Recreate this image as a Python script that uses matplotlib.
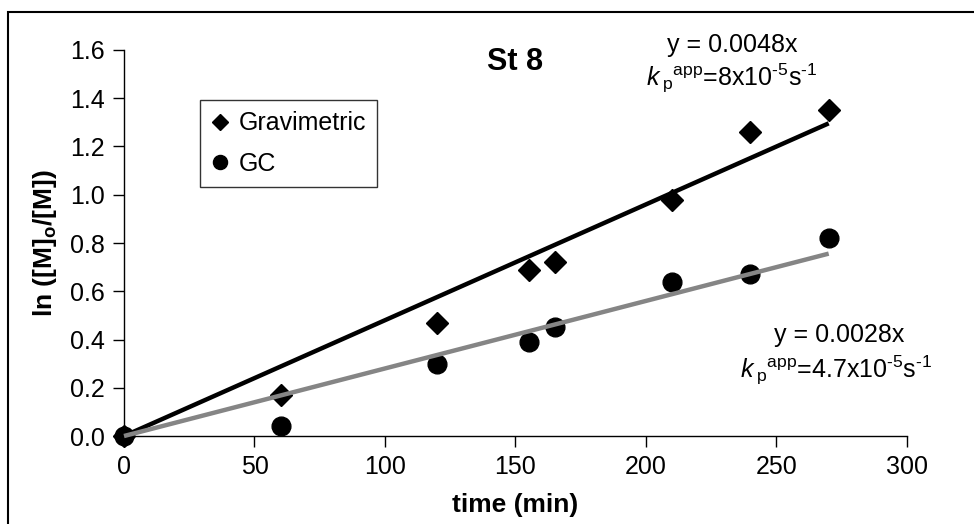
import matplotlib
matplotlib.use("Agg")
import matplotlib.pyplot as plt
from matplotlib.patches import Rectangle

plt.rcParams["font.family"] = ["Liberation Sans", "DejaVu Sans"]
plt.rcParams["mathtext.fontset"] = "custom"
plt.rcParams["mathtext.rm"] = "Liberation Sans"
plt.rcParams["mathtext.it"] = "Liberation Sans:italic"
plt.rcParams["mathtext.bf"] = "Liberation Sans:bold"

# kinetic data for St 8
time_min = [0, 60, 120, 155, 165, 210, 240, 270]
grav = [0.0, 0.17, 0.47, 0.69, 0.72, 0.98, 1.26, 1.35]
gc = [0.0, 0.04, 0.30, 0.39, 0.45, 0.64, 0.67, 0.82]

# linear fits through origin
slope_grav = 0.0048
slope_gc = 0.0028
fit_x = [0, 270]

fig = plt.figure(figsize=(9.74, 5.24), dpi=100)
ax = fig.add_axes([0.1273, 0.1679, 0.8039, 0.7367])

ax.plot(time_min, grav, "D", color="black", ms=11, zorder=3, label="Gravimetric")
ax.plot(time_min, gc, "o", color="black", ms=13.5, zorder=3, label="GC")
ax.plot(fit_x, [slope_grav * x for x in fit_x], color="black", lw=3.2, zorder=4,
        solid_capstyle="butt")
ax.plot(fit_x, [slope_gc * x for x in fit_x], color="#858585", lw=3.2, zorder=4,
        solid_capstyle="butt")

ax.set_xlim(0, 300)
ax.set_ylim(0, 1.6)
ax.set_xticks(range(0, 301, 50))
ax.set_yticks([i * 0.2 for i in range(9)])
ax.set_yticklabels([f"{i * 0.2:.1f}" for i in range(9)])
ax.tick_params(direction="out", length=8, width=1, labelsize=18, pad=6)
for s in ["top", "right"]:
    ax.spines[s].set_visible(False)
for s in ["left", "bottom"]:
    ax.spines[s].set_linewidth(1)
for ln in ax.lines:
    ln.set_clip_on(False)

ax.set_xlabel("time (min)", fontsize=19, fontweight="bold", labelpad=10)
ax.set_ylabel(r"ln ([M]$_{\mathbf{o}}$/[M])", fontsize=19, fontweight="bold", labelpad=8)

ax.text(150, 1.55, "St 8", fontsize=22, fontweight="bold", ha="center", va="center")
ax.text(233, 1.62, "y = 0.0048x", fontsize=18, ha="center", va="center")
ax.text(233, 1.48, r"$\mathit{k}\,{}_{\mathrm{p}}{}^{\mathrm{app}}$=8x10$^{\text{-5}}$s$^{\text{-1}}$",
        fontsize=18, ha="center", va="center")
ax.text(274, 0.42, "y = 0.0028x", fontsize=18, ha="center", va="center")
ax.text(273, 0.27, r"$\mathit{k}\,{}_{\mathrm{p}}{}^{\mathrm{app}}$=4.7x10$^{\text{-5}}$s$^{\text{-1}}$",
        fontsize=18, ha="center", va="center")

leg = ax.legend(loc="upper left", bbox_to_anchor=(0.097, 0.870), borderaxespad=0,
                fontsize=18, frameon=True, fancybox=False, edgecolor="black",
                handlelength=0.7, handletextpad=0.4, borderpad=0.45, labelspacing=0.65,
                markerscale=0.75)
leg.get_frame().set_linewidth(1)

# outer frame
fig.patches.append(Rectangle((8 / 974, -0.1), 1.2, 1.1 - 12 / 524, transform=fig.transFigure,
                             fill=False, edgecolor="black", lw=1.5))

fig.savefig("out.png", dpi=100)
